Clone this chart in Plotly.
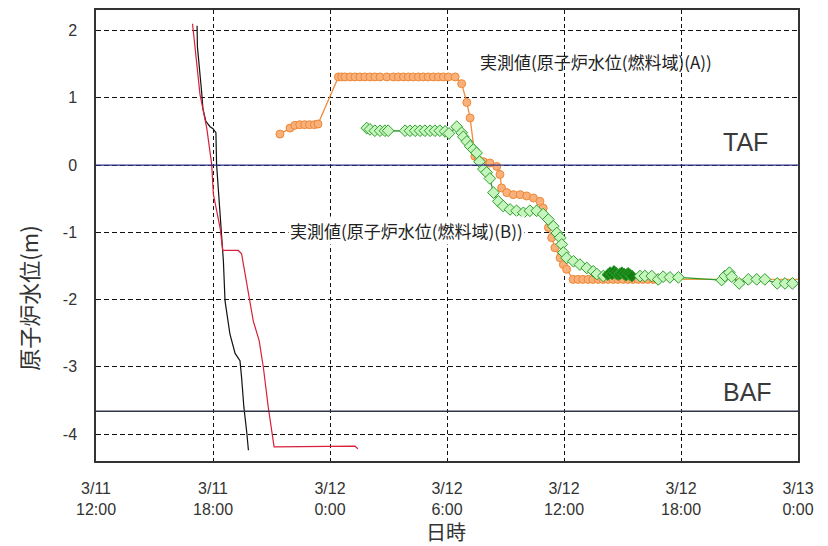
import plotly.graph_objects as go

# ---------------- data ----------------
black_time = ["2011-03-11 17:11", "2011-03-11 17:12", "2011-03-11 17:25", "2011-03-11 17:29",
              "2011-03-11 17:38", "2011-03-11 17:51", "2011-03-11 18:00", "2011-03-11 18:06",
              "2011-03-11 18:09", "2011-03-11 18:11", "2011-03-11 18:22", "2011-03-11 18:27",
              "2011-03-11 18:32", "2011-03-11 18:37", "2011-03-11 18:43", "2011-03-11 18:52",
              "2011-03-11 19:08", "2011-03-11 19:23", "2011-03-11 19:28", "2011-03-11 19:35",
              "2011-03-11 19:44", "2011-03-11 19:49"]
black_level = [2.07, 1.76, 1.09, 0.84, 0.65, 0.57, 0.54, 0.50, 0.48, 0.01, -0.69, -0.98,
               -1.43, -2.02, -2.21, -2.51, -2.80, -2.91, -3.16, -3.60, -3.98, -4.24]

red_time = ["2011-03-11 16:57", "2011-03-11 17:20", "2011-03-11 17:41", "2011-03-11 17:56",
            "2011-03-11 18:01", "2011-03-11 18:22", "2011-03-11 18:30", "2011-03-11 19:18",
            "2011-03-11 19:28", "2011-03-11 19:49", "2011-03-11 20:04", "2011-03-11 20:22",
            "2011-03-11 20:35", "2011-03-11 20:50", "2011-03-11 21:01", "2011-03-11 21:08",
            "2011-03-12 01:17", "2011-03-12 01:26"]
red_level = [2.10, 1.05, 0.54, 0.01, -0.43, -0.94, -1.27, -1.27, -1.32, -1.92, -2.32, -2.61,
             -3.01, -3.60, -3.99, -4.19, -4.18, -4.22]

a_time = ["2011-03-11 21:26", "2011-03-11 21:57", "2011-03-11 22:12", "2011-03-11 22:27",
          "2011-03-11 22:42", "2011-03-11 22:57", "2011-03-11 23:12", "2011-03-11 23:23",
          "2011-03-12 00:26", "2011-03-12 00:36", "2011-03-12 00:46", "2011-03-12 01:02",
          "2011-03-12 01:17", "2011-03-12 01:32", "2011-03-12 01:47", "2011-03-12 02:03",
          "2011-03-12 02:18", "2011-03-12 02:34", "2011-03-12 02:55", "2011-03-12 03:15",
          "2011-03-12 03:30", "2011-03-12 03:46", "2011-03-12 04:01", "2011-03-12 04:16",
          "2011-03-12 04:32", "2011-03-12 04:47", "2011-03-12 05:02", "2011-03-12 05:18",
          "2011-03-12 05:33", "2011-03-12 05:49", "2011-03-12 06:04", "2011-03-12 06:25",
          "2011-03-12 06:45", "2011-03-12 07:01", "2011-03-12 07:11", "2011-03-12 07:26",
          "2011-03-12 07:36", "2011-03-12 07:52", "2011-03-12 08:12", "2011-03-12 08:33",
          "2011-03-12 08:43", "2011-03-12 08:48", "2011-03-12 09:04", "2011-03-12 09:24",
          "2011-03-12 09:45", "2011-03-12 10:05", "2011-03-12 10:26", "2011-03-12 10:46",
          "2011-03-12 10:56", "2011-03-12 11:12", "2011-03-12 11:22", "2011-03-12 11:32",
          "2011-03-12 11:48", "2011-03-12 11:58", "2011-03-12 12:08", "2011-03-12 12:28",
          "2011-03-12 12:43", "2011-03-12 12:58", "2011-03-12 13:14", "2011-03-12 13:29",
          "2011-03-12 13:45", "2011-03-12 14:00", "2011-03-12 14:15", "2011-03-12 14:31",
          "2011-03-12 14:46", "2011-03-12 15:02", "2011-03-12 15:17", "2011-03-12 15:32",
          "2011-03-12 15:48", "2011-03-12 16:03", "2011-03-12 16:18", "2011-03-12 16:34",
          "2011-03-12 16:46"]
a_level = [0.46, 0.55, 0.59, 0.60, 0.60, 0.60, 0.60, 0.61,
           1.31, 1.31, 1.31, 1.31, 1.31, 1.31, 1.31, 1.31,
           1.31, 1.31, 1.31, 1.31, 1.31, 1.31, 1.31, 1.31,
           1.31, 1.31, 1.31, 1.31, 1.31, 1.31, 1.31, 1.31,
           1.21, 0.93, 0.70, 0.13, 0.08, 0.05, 0.03, -0.02,
           -0.14, -0.34, -0.41, -0.44, -0.44, -0.46, -0.49, -0.54,
           -0.64, -0.93, -1.08, -1.23, -1.38, -1.48, -1.55, -1.70,
           -1.70, -1.70, -1.70, -1.70, -1.70, -1.70, -1.70, -1.70,
           -1.70, -1.70, -1.70, -1.70, -1.70, -1.70, -1.70, -1.70,
           -1.70]
a_tail_time = ["2011-03-12 16:46", "2011-03-13 00:00"]
a_tail_level = [-1.70, -1.70]

b_time = ["2011-03-12 01:53", "2011-03-12 02:03", "2011-03-12 02:18", "2011-03-12 02:34",
          "2011-03-12 02:49", "2011-03-12 02:59", "2011-03-12 03:51", "2011-03-12 04:06",
          "2011-03-12 04:22", "2011-03-12 04:37", "2011-03-12 04:52", "2011-03-12 05:08",
          "2011-03-12 05:23", "2011-03-12 05:38", "2011-03-12 05:54", "2011-03-12 06:06",
          "2011-03-12 06:30", "2011-03-12 06:45", "2011-03-12 06:50", "2011-03-12 07:01",
          "2011-03-12 07:11", "2011-03-12 07:21", "2011-03-12 07:31", "2011-03-12 07:40",
          "2011-03-12 07:52", "2011-03-12 08:02", "2011-03-12 08:12", "2011-03-12 08:23",
          "2011-03-12 08:38", "2011-03-12 08:53", "2011-03-12 09:14", "2011-03-12 09:34",
          "2011-03-12 09:55", "2011-03-12 10:15", "2011-03-12 10:36", "2011-03-12 10:56",
          "2011-03-12 11:12", "2011-03-12 11:27", "2011-03-12 11:38", "2011-03-12 11:48",
          "2011-03-12 11:53", "2011-03-12 11:58", "2011-03-12 12:08", "2011-03-12 12:29",
          "2011-03-12 12:49", "2011-03-12 13:10", "2011-03-12 13:30", "2011-03-12 13:41",
          "2011-03-12 14:01", "2011-03-12 14:15", "2011-03-12 14:22", "2011-03-12 14:28",
          "2011-03-12 14:34", "2011-03-12 14:40", "2011-03-12 14:46", "2011-03-12 14:52",
          "2011-03-12 14:58", "2011-03-12 15:05", "2011-03-12 15:11", "2011-03-12 15:17",
          "2011-03-12 15:23", "2011-03-12 15:29", "2011-03-12 15:54", "2011-03-12 16:09",
          "2011-03-12 16:30", "2011-03-12 16:50", "2011-03-12 17:05", "2011-03-12 17:26",
          "2011-03-12 17:52", "2011-03-12 20:05", "2011-03-12 20:15", "2011-03-12 20:29",
          "2011-03-12 20:36", "2011-03-12 20:59", "2011-03-12 21:27", "2011-03-12 21:53",
          "2011-03-12 22:18", "2011-03-12 22:56", "2011-03-12 23:20", "2011-03-12 23:43"]
b_level = [0.55, 0.53, 0.51, 0.51, 0.51, 0.51, 0.51, 0.51,
           0.51, 0.51, 0.51, 0.51, 0.51, 0.51, 0.50, 0.47,
           0.57, 0.48, 0.42, 0.35, 0.28, 0.23, 0.18, 0.05,
           -0.06, -0.11, -0.20, -0.41, -0.54, -0.61, -0.66, -0.68,
           -0.71, -0.68, -0.68, -0.73, -0.81, -0.91, -1.01, -1.08,
           -1.18, -1.30, -1.38, -1.43, -1.48, -1.53, -1.58, -1.62,
           -1.65, -1.63, -1.60, -1.62, -1.58, -1.61, -1.63, -1.62,
           -1.60, -1.62, -1.64, -1.61, -1.63, -1.65, -1.65, -1.65,
           -1.65, -1.70, -1.66, -1.67, -1.67, -1.71, -1.65, -1.60,
           -1.66, -1.76, -1.70, -1.70, -1.70, -1.76, -1.76, -1.76]

TAF_LEVEL = 0.0
BAF_LEVEL = -3.66

x_tick_vals = ["2011-03-11 12:00", "2011-03-11 18:00", "2011-03-12 00:00", "2011-03-12 06:00",
               "2011-03-12 12:00", "2011-03-12 18:00", "2011-03-13 00:00"]
x_tick_text = ["3/11<br>12:00", "3/11<br>18:00", "3/12<br>0:00", "3/12<br>6:00",
               "3/12<br>12:00", "3/12<br>18:00", "3/13<br>0:00"]
y_tick_vals = [2, 1, 0, -1, -2, -3, -4]
y_tick_text = ["2", "1", "0", "-1", "-2", "-3", "-4"]

JP = "Noto Sans CJK JP"
LAT = "Liberation Sans, Arial, sans-serif"

# styling of the densely overlapped stretch of series B (dark green in the original)
b_fill = ["#137F13" if "2011-03-12 14:15" <= t <= "2011-03-12 15:29" else "#C6F5BE" for t in b_time]

# ---------------- figure ----------------
fig = go.Figure()

fig.add_trace(go.Scatter(x=black_time, y=black_level, mode="lines",
                         line=dict(color="#111111", width=1.2), hoverinfo="skip"))
fig.add_trace(go.Scatter(x=red_time, y=red_level, mode="lines",
                         line=dict(color="#D8203A", width=1.2), hoverinfo="skip"))
fig.add_trace(go.Scatter(x=a_tail_time, y=a_tail_level, mode="lines",
                         line=dict(color="#F0A040", width=1.3), hoverinfo="skip"))
fig.add_trace(go.Scatter(x=a_time, y=a_level, mode="lines+markers",
                         line=dict(color="#F08C3C", width=1.3),
                         marker=dict(symbol="circle", size=8, color="#F9B07A",
                                     line=dict(color="#EE8836", width=1)),
                         hoverinfo="skip"))
fig.add_trace(go.Scatter(x=b_time, y=b_level, mode="lines+markers",
                         line=dict(color="#2E9B2E", width=1.3),
                         marker=dict(symbol="diamond", size=9, color=b_fill,
                                     line=dict(color="#2E9E2E", width=1)),
                         hoverinfo="skip"))

fig.add_hline(y=TAF_LEVEL, line=dict(color="#2E2E86", width=1.3), layer="above")
fig.add_hline(y=BAF_LEVEL, line=dict(color="#303444", width=1.3), layer="above")

fig.add_annotation(x="2011-03-12 13:38", y=1.54, text="実測値(原子炉水位(燃料域)(A))",
                   showarrow=False, font=dict(family=JP, size=17, color="#222222"))
fig.add_annotation(x="2011-03-12 03:54", y=-0.98, text="実測値(原子炉水位(燃料域)(B))",
                   showarrow=False, bgcolor="white",
                   font=dict(family=JP, size=17, color="#222222"))
fig.add_annotation(x="2011-03-12 21:17", y=0.35, text="TAF", showarrow=False,
                   font=dict(family=LAT, size=25, color="#3a3a3a"))
fig.add_annotation(x="2011-03-12 21:26", y=-3.38, text="BAF", showarrow=False,
                   font=dict(family=LAT, size=25, color="#3a3a3a"))

# axis titles
fig.add_annotation(xref="paper", yref="paper", x=-0.097, y=0.362, text="原子炉水位(m)",
                   textangle=-90, showarrow=False, xanchor="center", yanchor="middle",
                   font=dict(family=JP, size=22, color="#333333"))
fig.add_annotation(xref="paper", yref="paper", x=0.4986, y=-0.156, text="日時",
                   showarrow=False, xanchor="center", yanchor="middle",
                   font=dict(family=JP, size=20, color="#333333"))

fig.update_layout(
    width=820, height=538,
    margin=dict(l=88, r=30, t=0, b=85),
    paper_bgcolor="white", plot_bgcolor="white",
    showlegend=False, hovermode=False,
    xaxis=dict(
        type="date",
        range=["2011-03-11 12:00", "2011-03-13 00:00"],
        tickmode="array", tickvals=x_tick_vals, ticktext=x_tick_text,
        tickfont=dict(family=LAT, size=16, color="#333333"),
        showgrid=True, gridcolor="#111111", gridwidth=1.3, griddash="4px,3px",
        showline=True, linecolor="#333333", linewidth=1.5, mirror=True,
        ticks="", zeroline=False, ticklabelstandoff=12,
    ),
    yaxis=dict(
        range=[-4.40, 2.305],
        tickmode="array", tickvals=y_tick_vals, ticktext=y_tick_text,
        tickfont=dict(family=LAT, size=16, color="#333333"),
        showgrid=True, gridcolor="#111111", gridwidth=1.3, griddash="5px,3px",
        showline=True, linecolor="#333333", linewidth=1.5, mirror=True,
        ticks="", zeroline=False, ticklabelstandoff=14,
    ),
)

fig.write_html("out.html")
